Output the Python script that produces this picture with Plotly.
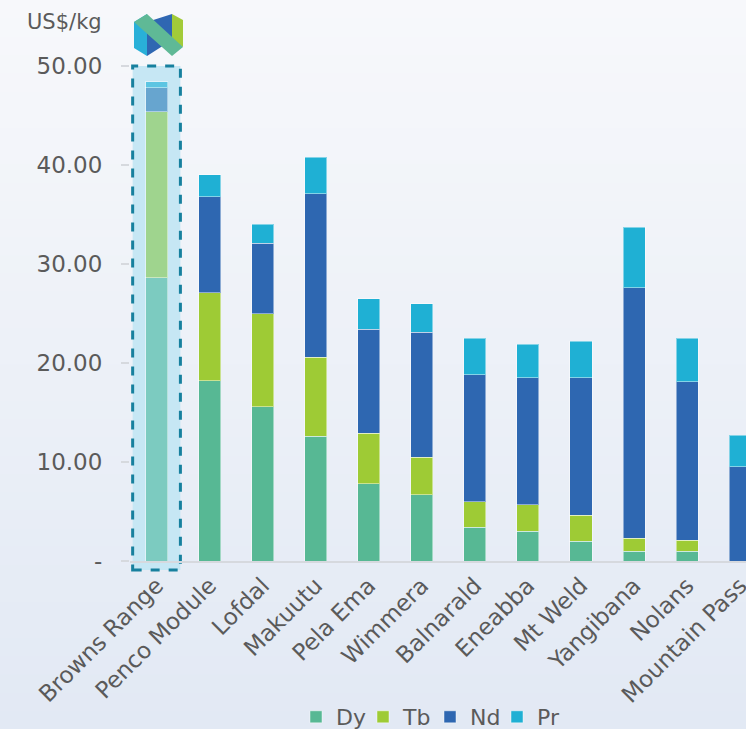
import plotly.graph_objects as go

categories = ["Browns Range", "Penco Module", "Lofdal", "Makuutu", "Pela Ema", "Wimmera",
              "Balnarald", "Eneabba", "Mt Weld", "Yangibana", "Nolans", "Mountain Pass"]
dy = [28.6, 18.2, 15.6, 12.6, 7.8, 6.7, 3.4, 3.0, 2.0, 1.0, 1.0, 0.0]
tb = [16.8, 8.9, 9.4, 8.0, 5.1, 3.8, 2.6, 2.7, 2.6, 1.3, 1.1, 0.0]
nd = [2.4, 9.7, 7.1, 16.5, 10.5, 12.6, 12.8, 12.8, 13.9, 25.3, 16.0, 9.5]
pr = [0.6, 2.2, 1.9, 3.7, 3.1, 2.9, 3.7, 3.4, 3.7, 6.1, 4.4, 3.2]
series_names = ["Dy", "Tb", "Nd", "Pr"]
tick_vals = [0, 10, 20, 30, 40, 50]
tick_text = ["-", "10.00", "20.00", "30.00", "40.00", "50.00"]
y_title = "US$/kg"
highlight = 1  # number of leading categories drawn highlighted

colors = ["#57b894", "#9ecb35", "#2e67b1", "#1fb0d4"]
hl_colors = ["#7ccbc0", "#9fd48e", "#67a5cf", "#5cc5e2"]

W, H = 746, 729
ML, MR, MT, MB = 130, 0, 66, 168
X0, X1 = -0.5, 11.11
pw, ph = W - ML - MR, H - MT - MB

def px_x(px):
    return (px - ML) / pw

def px_y(py):
    return (H - MB - py) / ph

bar_line = dict(color="rgba(255,255,255,0.45)", width=1)
fig = go.Figure()
for name, vals, c, hc in zip(series_names, [dy, tb, nd, pr], colors, hl_colors):
    fig.add_trace(go.Bar(
        x=categories[highlight:], y=vals[highlight:], name=name, legendgroup=name,
        marker=dict(color=c, line=bar_line),
    ))
    fig.add_trace(go.Bar(
        x=categories[:highlight], y=vals[:highlight], name=name, legendgroup=name,
        showlegend=False, marker=dict(color=hc, line=bar_line),
    ))

shapes = []
# background gradient
n = 40
top = (247, 248, 251)
bot = (226, 233, 244)
for i in range(n):
    t = i / (n - 1)
    col = tuple(round(top[k] + (bot[k] - top[k]) * t) for k in range(3))
    y_top = px_y(H * i / n)
    y_bot = px_y(H * (i + 1) / n) - 0.002
    shapes.append(dict(type="rect", xref="paper", yref="paper", x0=px_x(0), x1=px_x(W),
                       y0=y_bot, y1=y_top, fillcolor="rgb(%d,%d,%d)" % col,
                       line=dict(width=0), layer="below"))

# highlight box around the first category
def dx(v):
    return (v - X0) / (X1 - X0)

shapes.append(dict(type="rect", xref="paper", yref="paper",
                   x0=dx(-0.45), x1=dx(0.45), y0=px_y(570), y1=px_y(66),
                   fillcolor="#c6e7f4", line=dict(color="#17809e", width=3, dash="dash"),
                   layer="below"))

# logo
def poly(pts, color):
    p = "M " + " L ".join("%f,%f" % (px_x(a), px_y(b)) for a, b in pts) + " Z"
    return dict(type="path", xref="paper", yref="paper", path=p, fillcolor=color,
                line=dict(width=0), layer="above")

shapes.append(poly([(134, 22), (147, 14), (147, 56), (134, 48)], "#29b0d8"))
shapes.append(poly([(147, 56), (147, 22), (172, 14), (172, 40)], "#2f67b2"))
shapes.append(poly([(172, 14), (183, 20), (183, 47), (172, 40)], "#a2cb39"))
shapes.append(poly([(134, 22), (147, 14), (183, 47), (172, 56)], "#5fb996"))

fig.update_layout(
    width=W, height=H, autosize=False,
    margin=dict(l=ML, r=MR, t=MT, b=MB, autoexpand=False),
    barmode="stack", bargap=0.585,
    paper_bgcolor="#eef1f8", plot_bgcolor="rgba(0,0,0,0)",
    font=dict(family="DejaVu Sans", size=22, color="#5a5a5a"),
    shapes=shapes,
    showlegend=True,
    legend=dict(orientation="h", traceorder="normal", x=px_x(296), xanchor="left",
                y=px_y(717), yanchor="middle", entrywidth=22,
                font=dict(size=22, color="#5a5a5a"), bgcolor="rgba(0,0,0,0)"),
    xaxis=dict(range=[X0, X1], tickangle=-45, showgrid=False, showline=True,
               categoryorder="array", categoryarray=categories, automargin=False,
               linecolor="#d6d9de", linewidth=2, ticks="", tickfont=dict(size=23)),
    yaxis=dict(range=[0, 50], tickvals=tick_vals, ticktext=tick_text, showgrid=False,
               automargin=False,
               zeroline=False, showline=False, ticks="outside", ticklen=8, tickwidth=2,
               tickcolor="#d6d9de", tickfont=dict(size=23), ticklabelstandoff=14),
    annotations=[dict(text=y_title, xref="paper", yref="paper", x=px_x(104), y=px_y(22),
                      xanchor="right", yanchor="middle", showarrow=False,
                      font=dict(size=21, color="#5a5a5a"))],
)

fig.write_html("out.html", config={"displayModeBar": False},
               post_script="document.body.style.margin='0';")
